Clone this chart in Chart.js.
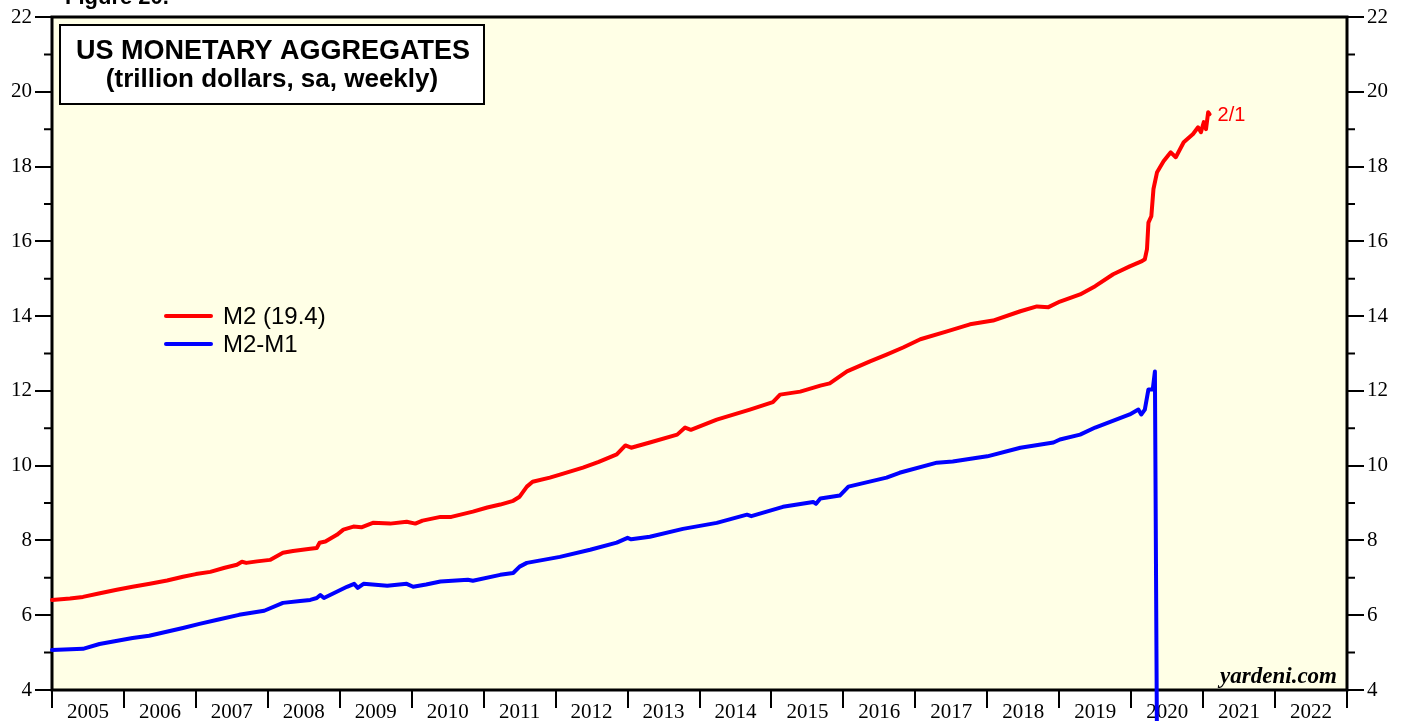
<!DOCTYPE html>
<html>
<head>
<meta charset="utf-8">
<script src="https://cdn.jsdelivr.net/npm/chart.js@4.4.1/dist/chart.umd.min.js"></script>
<style>
  html, body { margin: 0; padding: 0; background: #fff; }
  #wrap { width: 1408px; height: 721px; position: relative; }
</style>
</head>
<body>
<div id="wrap"><canvas id="c" width="1408" height="721"></canvas></div>
<script>
// year labels under the x axis (one per band)
const yearLabels = ['2005','2006','2007','2008','2009','2010','2011','2012','2013','2014','2015','2016','2017','2018','2019','2020','2021','2022'];

// M2, trillion $ (decimal years)
const m2Dates = [2005.00,2005.25,2005.43,2005.65,2005.90,2006.12,2006.36,2006.60,2006.82,2007.00,2007.20,2007.40,2007.57,2007.64,2007.70,2007.85,2008.03,2008.21,2008.35,2008.59,2008.68,2008.72,2008.80,2008.96,2009.05,2009.19,2009.30,2009.46,2009.70,2009.93,2010.05,2010.15,2010.40,2010.55,2010.85,2011.05,2011.23,2011.41,2011.50,2011.60,2011.68,2011.92,2012.06,2012.38,2012.60,2012.85,2012.97,2013.05,2013.31,2013.69,2013.80,2013.88,2014.24,2014.70,2015.02,2015.12,2015.40,2015.68,2015.81,2016.05,2016.37,2016.60,2016.83,2017.07,2017.44,2017.76,2018.08,2018.46,2018.69,2018.85,2019.01,2019.29,2019.50,2019.75,2019.98,2020.15,2020.19,2020.22,2020.24,2020.28,2020.31,2020.36,2020.45,2020.55,2020.62,2020.73,2020.86,2020.93,2020.97,2021.01,2021.04,2021.07,2021.09];
const m2Values = [6.41,6.45,6.49,6.58,6.68,6.76,6.84,6.93,7.03,7.10,7.16,7.27,7.35,7.43,7.40,7.44,7.48,7.67,7.72,7.78,7.80,7.94,7.97,8.15,8.29,8.37,8.35,8.47,8.45,8.50,8.45,8.53,8.63,8.63,8.77,8.88,8.96,9.06,9.17,9.44,9.57,9.68,9.76,9.95,10.10,10.30,10.54,10.48,10.62,10.83,11.02,10.96,11.23,11.50,11.70,11.90,11.98,12.14,12.20,12.52,12.79,12.97,13.16,13.38,13.59,13.78,13.88,14.13,14.26,14.24,14.39,14.58,14.80,15.12,15.33,15.47,15.52,15.79,16.50,16.67,17.40,17.85,18.14,18.38,18.25,18.65,18.87,19.05,18.92,19.19,19.00,19.45,19.40];

// M2 minus M1, trillion $
const spreadDates = [2005.00,2005.43,2005.66,2006.12,2006.35,2006.82,2007.05,2007.30,2007.60,2007.95,2008.21,2008.45,2008.59,2008.68,2008.73,2008.78,2009.10,2009.20,2009.25,2009.33,2009.66,2009.93,2010.02,2010.20,2010.40,2010.78,2010.85,2011.23,2011.41,2011.50,2011.60,2012.06,2012.48,2012.85,2013.00,2013.05,2013.31,2013.77,2014.24,2014.66,2014.72,2015.16,2015.58,2015.62,2015.68,2015.95,2016.07,2016.60,2016.78,2017.30,2017.52,2017.86,2018.00,2018.46,2018.92,2019.01,2019.29,2019.50,2019.98,2020.10,2020.14,2020.19,2020.24,2020.30,2020.33,2020.36,2020.60,2020.85,2021.09];
const spreadValues = [5.07,5.10,5.23,5.39,5.45,5.66,5.77,5.88,6.01,6.12,6.33,6.38,6.41,6.46,6.54,6.46,6.76,6.84,6.73,6.84,6.79,6.84,6.76,6.82,6.90,6.95,6.92,7.08,7.13,7.30,7.40,7.56,7.75,7.94,8.07,8.03,8.10,8.31,8.47,8.69,8.65,8.90,9.03,8.98,9.12,9.20,9.44,9.68,9.81,10.08,10.11,10.21,10.25,10.48,10.62,10.70,10.83,11.02,11.37,11.50,11.37,11.50,12.04,12.04,12.52,2.10,2.05,2.15,2.20];

const seriesNames = ['M2 (19.4)', 'M2-M1'];
const seriesColors = ['#ff0000', '#0000ff'];
const lastLabel = '2/1';

const toXY = (xs, ys) => xs.map((x, i) => ({ x, y: ys[i] }));

const serif = "'Liberation Serif', 'DejaVu Serif', serif";
const sans = "'Liberation Sans', Arial, sans-serif";

const yTicks = {
  min: 4, max: 22,
  ticks: {
    stepSize: 1, color: '#000', padding: 3, autoSkip: false,
    font: { family: serif, size: 21 },
    callback: v => (v % 2 === 0 ? v : '')
  },
  grid: {
    drawOnChartArea: false, drawTicks: true, tickLength: 17, lineWidth: 2,
    tickColor: ctx => (ctx.tick && ctx.tick.value % 2 === 0 ? '#000' : 'rgba(0,0,0,0)')
  },
  border: { display: false }
};

const decor = {
  id: 'decor',
  beforeDraw(chart) {
    const { ctx, chartArea: a } = chart;
    ctx.save();
    ctx.fillStyle = '#ffffe6';
    ctx.fillRect(a.left, a.top, a.right - a.left, a.bottom - a.top);
    ctx.restore();
  },
  beforeDatasetsDraw(chart) {
    const { ctx, chartArea: a, scales } = chart;
    ctx.save();
    // minor ticks at odd values, both sides
    ctx.strokeStyle = '#000';
    ctx.lineWidth = 2;
    for (let v = 5; v < 22; v += 2) {
      const py = scales.y.getPixelForValue(v);
      ctx.beginPath();
      ctx.moveTo(a.left - 8, py); ctx.lineTo(a.left, py);
      ctx.moveTo(a.right, py); ctx.lineTo(a.right + 8, py);
      ctx.stroke();
    }
    // frame
    ctx.lineWidth = 3;
    ctx.strokeRect(a.left, a.top, a.right - a.left, a.bottom - a.top);
    ctx.restore();
  },
  afterDraw(chart) {
    const { ctx, chartArea: a, scales } = chart;
    ctx.save();
    // figure caption, cut off at the top
    ctx.fillStyle = '#000';
    ctx.font = `bold 22px ${sans}`;
    ctx.textBaseline = 'alphabetic';
    ctx.fillText('Figure 20.', 65, 4);

    // title box
    ctx.fillStyle = '#fff';
    ctx.fillRect(60, 25, 424, 79);
    ctx.strokeStyle = '#000';
    ctx.lineWidth = 2;
    ctx.strokeRect(60, 25, 424, 79);
    ctx.fillStyle = '#000';
    ctx.textAlign = 'center';
    ctx.textBaseline = 'middle';
    ctx.font = `bold 27px ${sans}`;
    ctx.fillText('US MONETARY AGGREGATES', 273, 52);
    ctx.font = `bold 26px ${sans}`;
    ctx.fillText('(trillion dollars, sa, weekly)', 272, 80);

    // legend
    ctx.textAlign = 'left';
    ctx.font = `24px ${sans}`;
    seriesNames.forEach((name, i) => {
      const ly = 316 + i * 28;
      ctx.strokeStyle = seriesColors[i];
      ctx.lineWidth = 4;
      ctx.lineCap = 'round';
      ctx.beginPath();
      ctx.moveTo(166, ly); ctx.lineTo(211, ly);
      ctx.stroke();
      ctx.fillStyle = '#000';
      ctx.fillText(name, 223, ly + 1);
    });

    // end-of-series date
    const lx = scales.x.getPixelForValue(m2Dates[m2Dates.length - 1]);
    const ly = scales.y.getPixelForValue(m2Values[m2Values.length - 1]);
    ctx.fillStyle = seriesColors[0];
    ctx.font = `20px ${sans}`;
    ctx.fillText(lastLabel, lx + 8, ly + 1);

    // source
    ctx.fillStyle = '#000';
    ctx.textAlign = 'right';
    ctx.textBaseline = 'alphabetic';
    ctx.font = `bold italic 23px ${serif}`;
    ctx.fillText('yardeni.com', a.right - 10, a.bottom - 7);
    ctx.restore();
  }
};

new Chart(document.getElementById('c'), {
  type: 'line',
  data: {
    datasets: [
      { label: seriesNames[0], data: toXY(m2Dates, m2Values), borderColor: seriesColors[0], borderWidth: 4, pointRadius: 0, tension: 0, borderJoinStyle: 'round', borderCapStyle: 'round', clip: false, xAxisID: 'x', yAxisID: 'y' },
      { label: seriesNames[1], data: toXY(spreadDates, spreadValues), borderColor: seriesColors[1], borderWidth: 4, pointRadius: 0, tension: 0, borderJoinStyle: 'round', borderCapStyle: 'round', clip: false, xAxisID: 'x', yAxisID: 'y' }
    ]
  },
  options: {
    responsive: false,
    animation: false,
    layout: { padding: { top: 17, left: 0, right: 0, bottom: 0 } },
    plugins: { legend: { display: false }, tooltip: { enabled: false } },
    scales: {
      x: { type: 'linear', min: 2005, max: 2023, display: false },
      xc: {
        type: 'category', position: 'bottom', labels: yearLabels, offset: true,
        ticks: { color: '#000', padding: -8, maxRotation: 0, autoSkip: false, font: { family: serif, size: 21 } },
        grid: { offset: true, drawOnChartArea: false, tickLength: 18, lineWidth: 2, tickColor: '#000' },
        border: { display: false },
        afterFit: s => { s.height = 31; }
      },
      y: Object.assign({ position: 'left', afterFit: s => { s.width = 52; } }, yTicks),
      y2: Object.assign({ position: 'right', afterFit: s => { s.width = 61; } }, yTicks)
    }
  },
  plugins: [decor]
});
</script>
</body>
</html>
